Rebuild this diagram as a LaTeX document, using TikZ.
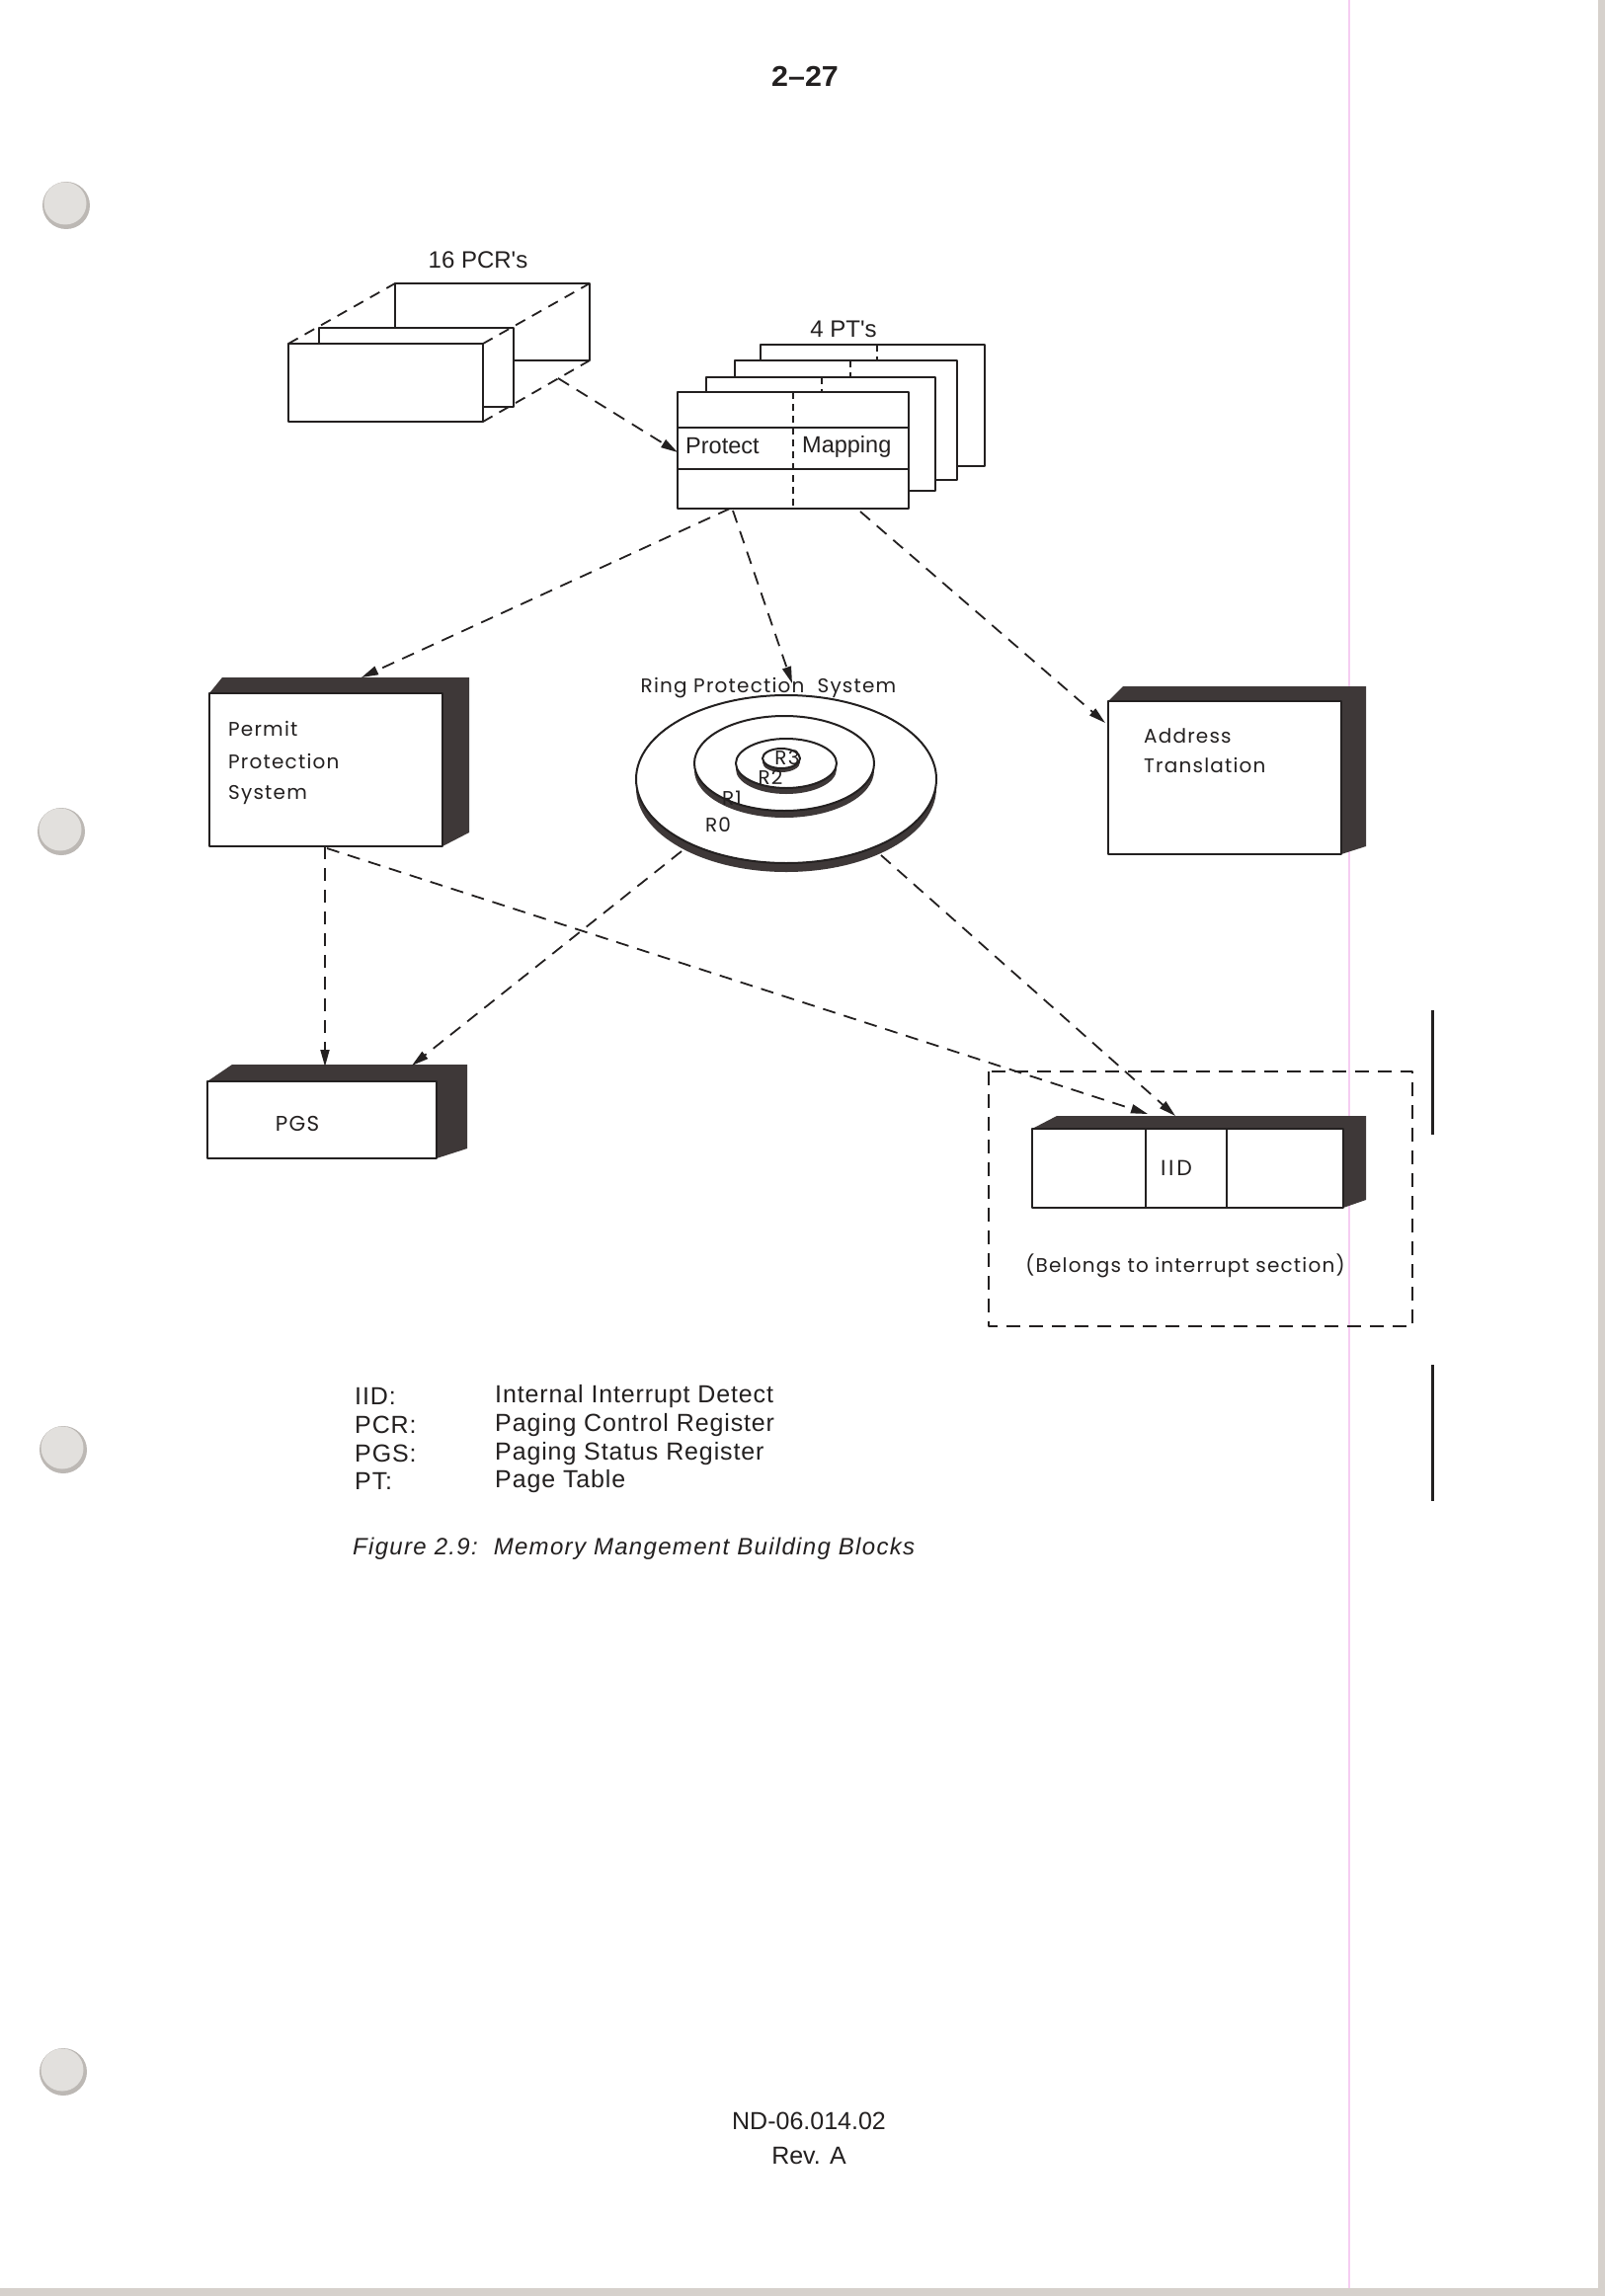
\documentclass[tikz,border=0pt]{standalone}
\usepackage{fontspec}
\usepackage{graphicx}
\setmainfont{Liberation Sans}
\newfontfamily\diagf[LetterSpace=6]{Poppins}
\newfontfamily\diagw[LetterSpace=12]{Poppins}
\newfontfamily\helv{Liberation Sans}
\newfontfamily\helvl[LetterSpace=3.5]{Liberation Sans}
\newfontfamily\helvc[LetterSpace=5.5]{Liberation Sans}
\usetikzlibrary{arrows.meta,calc}
\definecolor{ink}{RGB}{35,32,32}
\definecolor{darkface}{RGB}{62,56,56}
\definecolor{holef}{RGB}{226,224,221}
\definecolor{holed}{RGB}{188,184,180}
\definecolor{pinkl}{RGB}{246,205,242}
\definecolor{edgeg}{RGB}{214,209,204}
\begin{document}
\begin{tikzpicture}[x=1pt,y=-1pt,
  ln/.style={line width=2.2pt, draw=ink, line join=round},
  face/.style={ln, fill=white},
  dk/.style={fill=darkface},
  conn/.style={line width=1.8pt, draw=ink, dash pattern=on 13pt off 9pt, -{Triangle[length=17pt,width=9pt]}},
  thindash/.style={line width=1.4pt, draw=ink, dash pattern=on 7pt off 5pt},
  dfont/.style={font=\diagf\fontsize{20}{20}\selectfont, inner sep=0pt, text=ink},
  hfont/.style={font=\helvl\fontsize{25}{25}\selectfont, inner sep=0pt, text=ink},
  nfont/.style={font=\helv\fontsize{23.5}{23.5}\selectfont, inner sep=0pt, text=ink},
  lbl/.style={anchor=west}
]
\useasboundingbox (0,0) rectangle (1625,2325);
\fill[white] (0,0) rectangle (1625,2325);
% page edges
\fill[edgeg] (1618,0) rectangle (1625,2325);
\fill[edgeg] (0,2317) rectangle (1625,2325);
\draw[pinkl, line width=1.5pt] (1366,0) -- (1366,2317);
% punch holes
\foreach \hy/\hx [count=\i] in {208/67, 842/62, 1468/64, 2098/64}{
  \fill[holed] (\hx,\hy) circle (24);
  \fill[holef] (\hx-1,\hy-2) circle (21.5);
}
% margin bars
\draw[ink, line width=3pt] (1450,1023) -- (1450,1149);
\draw[ink, line width=3pt] (1450,1382) -- (1450,1520);
% page number
\node[font=\helv\bfseries\fontsize{29}{29}\selectfont, text=ink, inner sep=0pt] (pagenum) at (815,77) {\scalebox{1.05}[1]{2–27}};

% ---------- 16 PCR's ----------
\node[nfont, font=\helv\fontsize{24}{24}\selectfont] (pcrlabel) at (484,263) {16 PCR's};
\draw[face] (400,287) rectangle (597,365);
\draw[face] (323,332) rectangle (520,412);
\draw[face] (292,348) rectangle (489,427);
\draw[ln, dash pattern=on 11pt off 8pt, line width=1.8pt] (292,348) -- (400,287);
\draw[ln, dash pattern=on 11pt off 8pt, line width=1.8pt] (489,348) -- (597,287);
\draw[ln, dash pattern=on 11pt off 8pt, line width=1.8pt] (489,427) -- (597,365);

% ---------- 4 PT's ----------
\node[nfont, font=\helv\fontsize{24}{24}\selectfont] (ptlabel) at (854,333) {4 PT's};
\draw[face] (770,349) rectangle (997,472);
\draw[thindash] (888,349) -- (888,365);
\draw[face] (744,365) rectangle (969,486);
\draw[thindash] (861,365) -- (861,382);
\draw[face] (715,382) rectangle (947,497);
\draw[thindash] (832,382) -- (832,397);
\draw[face] (686,397) rectangle (920,515);
\draw[ln] (686,433) -- (920,433);
\draw[ln] (686,475) -- (920,475);
\draw[thindash] (803,397) -- (803,515);
\node[nfont, anchor=west] (protect) at (694,452) {Protect};
\node[nfont, anchor=west] (mapping) at (812,452) {Mapping};

% ---------- Permit Protection System ----------
\fill[dk] (212,702) -- (225,686) -- (475,686) -- (475,843) -- (448,857) -- cycle;
\draw[face] (212,702) rectangle (448,857);
\node[dfont, lbl] (permit1) at (231,738) {Permit};
\node[dfont, lbl] (permit2) at (231,771) {Protection};
\node[dfont, lbl] (permit3) at (231,805) {System};

% ---------- Address Translation ----------
\fill[dk] (1122,710) -- (1137,695) -- (1383,695) -- (1383,857) -- (1358,865) -- cycle;
\draw[face] (1122,710) rectangle (1358,865);
\node[dfont, lbl] (addr1) at (1158,745) {Address};
\node[dfont, lbl] (addr2) at (1158,775) {Translation};

% ---------- PGS ----------
\fill[dk] (210,1095) -- (235,1078) -- (473,1078) -- (473,1163) -- (442,1173) -- cycle;
\draw[face] (210,1095) rectangle (442,1173);
\node[dfont, font=\diagf\fontsize{21.5}{21.5}\selectfont] (pgs) at (301,1138) {PGS};

% ---------- IID ----------
\draw[ln, dash pattern=on 14pt off 9pt, line width=2pt] (1001,1085) rectangle (1430,1343);
\fill[dk] (1045,1143) -- (1070,1130) -- (1383,1130) -- (1383,1215) -- (1360,1223) -- cycle;
\draw[face] (1045,1143) rectangle (1360,1223);
\draw[ln, line width=1.6pt] (1160,1143) -- (1160,1223);
\draw[ln, line width=1.6pt] (1242,1143) -- (1242,1223);
\node[dfont, font=\diagw\fontsize{22}{22}\selectfont] (iid) at (1191,1183) {IID};
\node[dfont] (belongs) at (1200,1282) {(Belongs to interrupt section)};

% ---------- Ring protection ----------
\fill[darkface] (796,798) ellipse [x radius=152, y radius=85];
\draw[ln, line width=2pt, fill=white] (796,789) ellipse [x radius=152, y radius=85];
\fill[darkface] (794,780) ellipse [x radius=91, y radius=48];
\draw[ln, line width=2pt, fill=white] (794,773) ellipse [x radius=91, y radius=48];
\fill[darkface] (796,779) ellipse [x radius=51, y radius=25];
\draw[ln, line width=2pt, fill=white] (796,773) ellipse [x radius=51, y radius=25];
\fill[darkface] (791,772) ellipse [x radius=19, y radius=10];
\draw[ln, line width=2pt, fill=white] (791,768) ellipse [x radius=19, y radius=10];
\node[dfont] (ringlabel) at (778,697) {Ring Protection\ \ System};
\node[dfont] (r3) at (797,767) {R3};
\node[dfont] (r2) at (780,787) {R2};
\node[dfont] (r1) at (741,808) {R1};
\node[dfont] (r0) at (727,835) {R0};

% ---------- connector end points ----------
\coordinate (pcrout) at (565,383);
\coordinate (ptin) at (686,458);
\coordinate (ptoutA) at (739,515);
\coordinate (ptoutB) at (742,517);
\coordinate (ptoutC) at (871,518);
\coordinate (permitin) at (366,686);
\coordinate (ringin) at (802,692);
\coordinate (addrin) at (1119,732);
\coordinate (permitoutA) at (329,857);
\coordinate (permitoutB) at (331,859);
\coordinate (pgsinA) at (329,1080);
\coordinate (pgsinB) at (417,1079);
\coordinate (ringoutA) at (690,862);
\coordinate (ringoutB) at (892,866);
\coordinate (iidinA) at (1162,1128);
\coordinate (iidinB) at (1190,1130);

\draw[conn] (pcrout) -- (ptin);
\draw[conn] (ptoutA) -- (permitin);
\draw[conn] (ptoutB) -- (ringin);
\draw[conn] (ptoutC) -- (addrin);
\draw[conn] (permitoutA) -- (pgsinA);
\draw[conn] (permitoutB) -- (iidinA);
\draw[conn] (ringoutA) -- (pgsinB);
\draw[conn] (ringoutB) -- (iidinB);

% ---------- legend ----------
\node[hfont, lbl] (k1) at (359,1414) {IID:};
\node[hfont, lbl] (k2) at (359,1443) {PCR:};
\node[hfont, lbl] (k3) at (359,1472) {PGS:};
\node[hfont, lbl] (k4) at (359,1500) {PT:};
\node[hfont, lbl] (v1) at (501,1414) {Internal Interrupt Detect};
\node[hfont, lbl] (v2) at (501,1443) {Paging Control Register};
\node[hfont, lbl] (v3) at (501,1472) {Paging Status Register};
\node[hfont, lbl] (v4) at (501,1500) {Page Table};
\node[font=\helvc\itshape\fontsize{24}{24}\selectfont, text=ink, inner sep=0pt, anchor=west] (caption) at (357,1568) {Figure 2.9:\ \ Memory Mangement Building Blocks};

% ---------- footer ----------
\node[font=\helv\fontsize{25}{25}\selectfont, text=ink, inner sep=0pt] (doc) at (819,2148) {ND-06.014.02};
\node[font=\helv\fontsize{25}{25}\selectfont, text=ink, inner sep=0pt] (rev) at (819,2183) {Rev. A};
\end{tikzpicture}
\end{document}
